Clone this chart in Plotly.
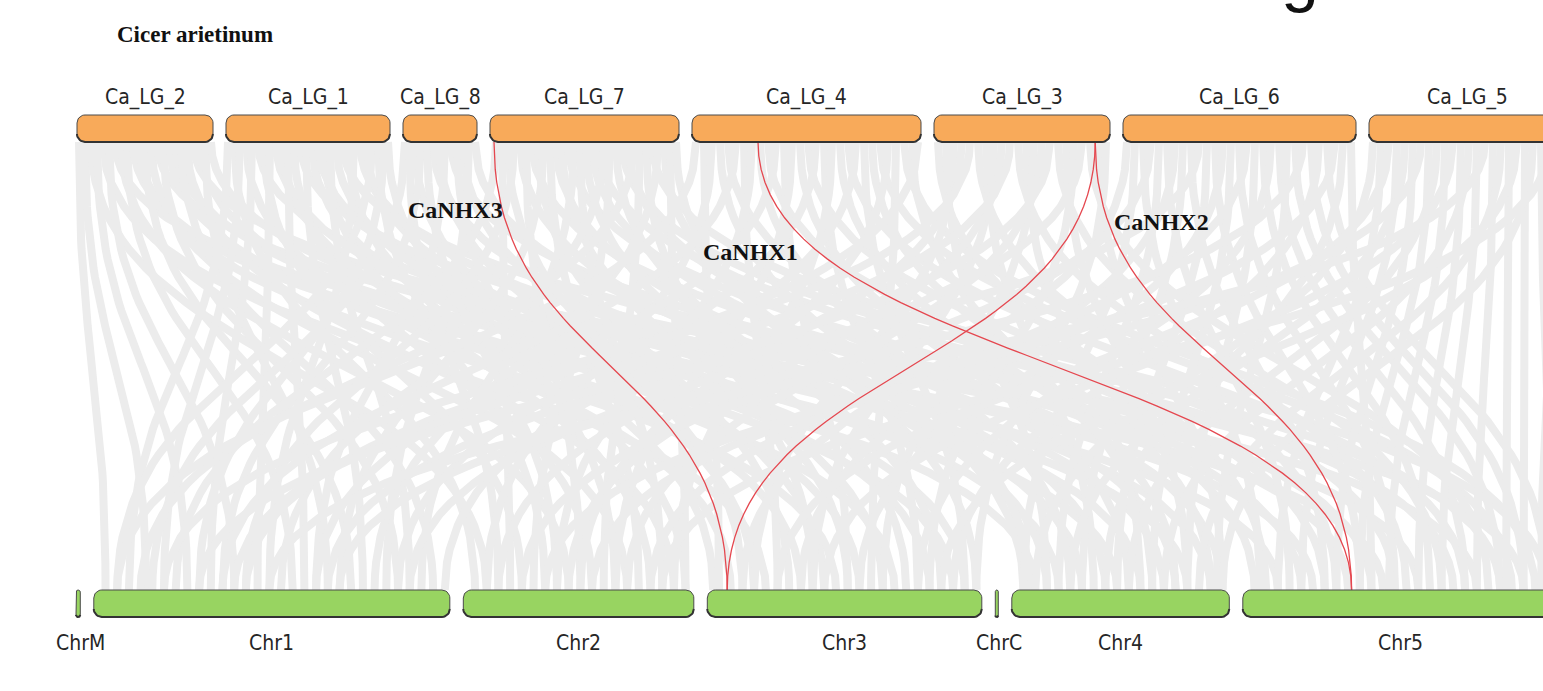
import numpy as np
import plotly.graph_objects as go

W, H = 1543, 691

# ---------------------------------------------------------------- data
TOP_SPECIES = "Cicer arietinum"
BOTTOM_SPECIES = "Arabidopsis thaliana"

TOP_CHROMS = ["Ca_LG_2", "Ca_LG_1", "Ca_LG_8", "Ca_LG_7",
              "Ca_LG_4", "Ca_LG_3", "Ca_LG_6", "Ca_LG_5"]
TOP_LEN_MB = [34.0, 41.0, 18.5, 47.25, 57.25, 44.0, 58.25, 49.0]

BOTTOM_CHROMS = ["ChrM", "Chr1", "Chr2", "Chr3", "ChrC", "Chr4", "Chr5"]
BOTTOM_LEN_MB = [0.367, 30.43, 19.70, 23.46, 0.154, 18.59, 26.98]

# collinear gene pairs: (chickpea LG, position Mb, Arabidopsis chr, position Mb)
SYNTENY = {
    "Ca_LG_2": [(0.5, "Chr1", 1.0), (2, "Chr1", 4.5), (3.5, "Chr2", 2), (5, "Chr1", 8),
                (6.5, "Chr3", 5), (8, "Chr1", 12), (9.5, "Chr5", 3), (11, "Chr2", 9),
                (12.5, "Chr1", 17), (14, "Chr4", 2), (15.5, "Chr3", 11), (17, "Chr1", 22),
                (18.5, "Chr2", 14), (20, "Chr5", 12), (21.5, "Chr1", 26), (23, "Chr3", 16),
                (24.5, "Chr4", 9), (26, "Chr1", 29), (27.5, "Chr2", 18), (29, "Chr5", 20),
                (30.5, "Chr3", 21), (32, "Chr1", 20), (33.5, "Chr4", 15)],
    "Ca_LG_1": [(0.5, "Chr1", 3), (2, "Chr2", 1), (3.5, "Chr1", 6), (5, "Chr3", 2),
                (6.5, "Chr1", 10), (8, "Chr5", 6), (9.5, "Chr2", 5), (11, "Chr1", 14),
                (12.5, "Chr4", 4), (14, "Chr3", 8), (15.5, "Chr1", 18), (17, "Chr2", 11),
                (18.5, "Chr5", 15), (20, "Chr1", 23), (21.5, "Chr3", 13), (23, "Chr4", 11),
                (24.5, "Chr2", 16), (26, "Chr1", 27), (27.5, "Chr3", 19), (29, "Chr5", 24),
                (30.5, "Chr2", 19), (32, "Chr1", 15), (33.5, "Chr4", 17), (35, "Chr3", 22),
                (36.5, "Chr1", 2), (38, "Chr2", 7), (39.5, "Chr1", 9), (40.5, "Chr3", 0.5)],
    "Ca_LG_8": [(0.5, "Chr1", 5), (1.5, "Chr2", 3), (3, "Chr3", 4), (4.5, "Chr1", 11),
                (6, "Chr2", 8), (7.5, "Chr4", 6), (9, "Chr3", 10), (10.5, "Chr1", 19),
                (12, "Chr5", 9), (13.5, "Chr2", 13), (15, "Chr3", 15), (16.5, "Chr1", 25),
                (18, "Chr4", 13)],
    "Ca_LG_7": [(1.5, "Chr1", 7), (3, "Chr2", 4), (4.5, "Chr3", 3), (6, "Chr1", 13),
                (7.5, "Chr4", 3), (9, "Chr2", 10), (10.5, "Chr5", 5), (12, "Chr3", 7),
                (13.5, "Chr1", 21), (15, "Chr2", 15), (16.5, "Chr4", 8), (18, "Chr3", 12),
                (19.5, "Chr5", 11), (21, "Chr1", 28), (22.5, "Chr2", 17), (24, "Chr3", 17),
                (25.5, "Chr4", 14), (27, "Chr5", 18), (28.5, "Chr1", 16), (30, "Chr2", 6),
                (31.5, "Chr3", 20), (33, "Chr5", 22), (34.5, "Chr4", 18), (36, "Chr1", 4),
                (37.5, "Chr2", 12), (39, "Chr3", 9), (40.5, "Chr5", 26), (42, "Chr1", 24),
                (43.5, "Chr4", 1), (45, "Chr2", 19), (46.5, "Chr3", 23)],
    "Ca_LG_4": [(1, "Chr1", 2), (3, "Chr3", 1), (5, "Chr2", 2), (7, "Chr4", 1.5),
                (9, "Chr5", 1), (11, "Chr1", 11), (13, "Chr3", 6), (15, "Chr2", 8),
                (17, "Chr4", 5), (19, "Chr5", 7), (21, "Chr1", 19), (23, "Chr3", 12),
                (25, "Chr2", 13), (27, "Chr4", 10), (29, "Chr5", 13), (31, "Chr1", 26),
                (33, "Chr3", 18), (35, "Chr2", 18), (37, "Chr4", 14), (39, "Chr5", 19),
                (41, "Chr1", 30), (43, "Chr3", 22), (45, "Chr4", 17), (47, "Chr5", 23),
                (49, "Chr2", 10), (51, "Chr3", 14), (53, "Chr5", 25), (55, "Chr4", 12),
                (56.5, "Chr1", 13)],
    "Ca_LG_3": [(1, "Chr5", 2), (3, "Chr4", 3), (5, "Chr3", 4), (7, "Chr2", 3),
                (9, "Chr1", 6), (11, "Chr5", 8), (13, "Chr4", 7), (15, "Chr3", 9),
                (17, "Chr2", 9), (19, "Chr1", 12), (21, "Chr5", 14), (23, "Chr4", 11),
                (25, "Chr3", 15), (27, "Chr2", 14), (29, "Chr1", 20), (31, "Chr5", 17),
                (33, "Chr4", 15), (35, "Chr3", 19), (37, "Chr1", 27), (39, "Chr5", 21),
                (41, "Chr4", 18), (43, "Chr3", 23)],
    "Ca_LG_6": [(1, "Chr3", 3), (3, "Chr4", 1), (5, "Chr5", 1.5), (7, "Chr2", 5),
                (9, "Chr4", 4), (11, "Chr5", 4), (13, "Chr3", 8), (15, "Chr4", 6),
                (17, "Chr5", 7), (19, "Chr1", 9), (21, "Chr4", 9), (23, "Chr5", 10),
                (25, "Chr3", 13), (27, "Chr4", 12), (29, "Chr5", 13), (31, "Chr2", 16),
                (33, "Chr4", 15), (35, "Chr5", 16), (37, "Chr3", 18), (39, "Chr5", 19),
                (41, "Chr4", 17.5), (43, "Chr5", 22), (45, "Chr1", 21), (47, "Chr5", 24),
                (49, "Chr3", 21), (51, "Chr5", 26), (53, "Chr2", 11), (55, "Chr4", 8),
                (57, "Chr5", 11)],
    "Ca_LG_5": [(1, "Chr4", 2), (3, "Chr5", 3), (5, "Chr3", 6), (7, "Chr5", 5),
                (9, "Chr4", 5), (11, "Chr5", 8), (13, "Chr2", 7), (15, "Chr5", 10),
                (17, "Chr4", 10), (19, "Chr5", 12.5), (21, "Chr3", 10), (23, "Chr5", 15),
                (25, "Chr4", 13), (27, "Chr5", 17), (29, "Chr1", 15), (31, "Chr5", 20),
                (33, "Chr4", 16), (35, "Chr5", 22.5), (37, "Chr3", 20), (39, "Chr5", 24),
                (41, "Chr4", 18), (43, "Chr5", 26.5), (45, "Chr2", 17), (47, "Chr5", 25.5),
                (48.5, "Chr5", 27)],
}

# NHX gene pairs highlighted in red
NHX_PAIRS = [("Ca_LG_7", 1.0, "Chr3", 1.7),
             ("Ca_LG_4", 16.5, "Chr5", 9.3),
             ("Ca_LG_3", 40.3, "Chr3", 1.7),
             ("Ca_LG_3", 40.3, "Chr5", 9.3)]
NHX_LABELS = ["CaNHX3", "CaNHX1", "CaNHX2"]

# ---------------------------------------------------------------- layout
TOP_X0, TOP_SCALE, TOP_GAP = 77, 4.0, 13.0        # px, px per Mb, px
BOT_X0, BOT_SCALE, BOT_GAP = 76, 11.7, 13.5
MIN_W = 3.0
TOP_Y = (115, 142)
BOT_Y = (590, 617)

TOP_FILL, BOT_FILL = "#F8AA5A", "#98D461"
EDGE = "#4a4a4a"
LINK_GREY = "#ececec"
RED = "#E5474F"


def place(names, lengths, x0, scale, gap):
    pos, x = {}, x0
    for n, L in zip(names, lengths):
        w = max(L * scale, MIN_W)
        pos[n] = (x, x + w, scale)
        x += w + gap
    return pos


top_pos = place(TOP_CHROMS, TOP_LEN_MB, TOP_X0, TOP_SCALE, TOP_GAP)
bot_pos = place(BOTTOM_CHROMS, BOTTOM_LEN_MB, BOT_X0, BOT_SCALE, BOT_GAP)


def gx(pos, chrom, mb):
    x0, _, s = pos[chrom]
    return x0 + mb * s


def link_path(xt, xb, yt=TOP_Y[1], yb=BOT_Y[0], n=48):
    t = np.linspace(0, 1, n)
    ym = (yt + yb) / 2
    # cubic Bezier with vertical tangents at both ends
    x = (1 - t) ** 3 * xt + 3 * (1 - t) ** 2 * t * xt + 3 * (1 - t) * t ** 2 * xb + t ** 3 * xb
    y = (1 - t) ** 3 * yt + 3 * (1 - t) ** 2 * t * ym + 3 * (1 - t) * t ** 2 * ym + t ** 3 * yb
    return list(x), list(y)


def rounded(x0, x1, y0, y1, r=8, n=10):
    r = min(r, (x1 - x0) / 2, (y1 - y0) / 2)
    xs, ys = [], []
    corners = [(x1 - r, y0 + r, -90, 0), (x1 - r, y1 - r, 0, 90),
               (x0 + r, y1 - r, 90, 180), (x0 + r, y0 + r, 180, 270)]
    for cx, cy, a0, a1 in corners:
        a = np.radians(np.linspace(a0, a1, n))
        xs += list(cx + r * np.cos(a))
        ys += list(cy + r * np.sin(a))
    xs.append(xs[0]); ys.append(ys[0])
    return xs, ys


def lower_edge(x0, x1, y0, y1, r=8, n=10):
    r = min(r, (x1 - x0) / 2, (y1 - y0) / 2)
    a = np.radians(np.linspace(0, 90, n))
    xs = list(x1 - r + r * np.cos(a)) + list(x0 + r - r * np.sin(a))
    ys = list(y1 - r + r * np.sin(a)) + list(y1 - r + r * np.cos(a))
    return xs, ys


fig = go.Figure()

# grey collinearity background
lx, ly = [], []
for top, pairs in SYNTENY.items():
    for tmb, bchr, bmb in pairs:
        x, y = link_path(gx(top_pos, top, tmb), gx(bot_pos, bchr, bmb))
        lx += x + [None]
        ly += y + [None]
fig.add_trace(go.Scatter(x=lx, y=ly, mode="lines", hoverinfo="skip",
                         line=dict(color=LINK_GREY, width=8), showlegend=False))

# red NHX links
rx, ry = [], []
for top, tmb, bchr, bmb in NHX_PAIRS:
    x, y = link_path(gx(top_pos, top, tmb), gx(bot_pos, bchr, bmb))
    rx += x + [None]
    ry += y + [None]
fig.add_trace(go.Scatter(x=rx, y=ry, mode="lines", hoverinfo="skip",
                         line=dict(color=RED, width=1.3), showlegend=False))

# chromosome bars
for pos, (y0, y1), fill in [(top_pos, TOP_Y, TOP_FILL), (bot_pos, BOT_Y, BOT_FILL)]:
    for name, (x0, x1, _) in pos.items():
        xs, ys = rounded(x0, x1, y0, y1)
        fig.add_trace(go.Scatter(x=xs, y=ys, mode="lines", fill="toself",
                                 fillcolor=fill, line=dict(color=EDGE, width=1),
                                 hoverinfo="skip", showlegend=False))
        ex, ey = lower_edge(x0, x1, y0, y1)
        fig.add_trace(go.Scatter(x=ex, y=ey, mode="lines",
                                 line=dict(color="#333333", width=2),
                                 hoverinfo="skip", showlegend=False))


def py(ypx):
    """pixel row -> paper fraction"""
    return 1 - ypx / H


annotations = []
LABEL_FONT = dict(family="Liberation Sans Narrow, Arial Narrow, DejaVu Sans Condensed, sans-serif",
                  size=21, color="#262626")
for name, (x0, x1, _) in top_pos.items():
    annotations.append(dict(x=(x0 + x1) / 2, y=97, text=name, showarrow=False,
                            xanchor="center", yanchor="middle", font=LABEL_FONT))
for name, (x0, x1, _) in bot_pos.items():
    annotations.append(dict(x=(x0 + x1) / 2 + (2 if x1 - x0 < 10 else 0), y=643, text=name,
                            showarrow=False, xanchor="center", yanchor="middle", font=LABEL_FONT))

SERIF = dict(family="Liberation Serif, Times New Roman, serif", size=23, color="#111111")
annotations.append(dict(x=115, y=34, text="<b>%s</b>" % TOP_SPECIES, showarrow=False,
                        xanchor="left", yanchor="middle", font=SERIF))
# lower species name sits just below the visible frame, only its top shows
annotations.append(dict(x=97 / W, y=py(703), xref="paper", yref="paper",
                        text="<b>%s</b>" % BOTTOM_SPECIES, showarrow=False,
                        xanchor="left", yanchor="middle", font=SERIF))
GENE_LABEL_POS = [(455, 210), (750, 252), (1161, 222)]
for lab, (x, y) in zip(NHX_LABELS, GENE_LABEL_POS):
    annotations.append(dict(x=x, y=y, text="<b>%s</b>" % lab, showarrow=False,
                            xanchor="center", yanchor="middle",
                            font=dict(SERIF, size=24)))
annotations.append(dict(x=1300 / W, y=py(-25), xref="paper", yref="paper",
                        text="g", showarrow=False, xanchor="center", yanchor="middle",
                        font=dict(family="Liberation Sans, Arial, sans-serif", size=68,
                                  color="#111111")))

fig.update_layout(
    width=W, height=H, autosize=False,
    margin=dict(l=0, r=0, t=0, b=0),
    paper_bgcolor="white", plot_bgcolor="white",
    xaxis=dict(range=[0, W], visible=False, fixedrange=True),
    yaxis=dict(range=[H, 0], visible=False, fixedrange=True),
    annotations=annotations,
    showlegend=False,
)

fig.write_html("out.html")
